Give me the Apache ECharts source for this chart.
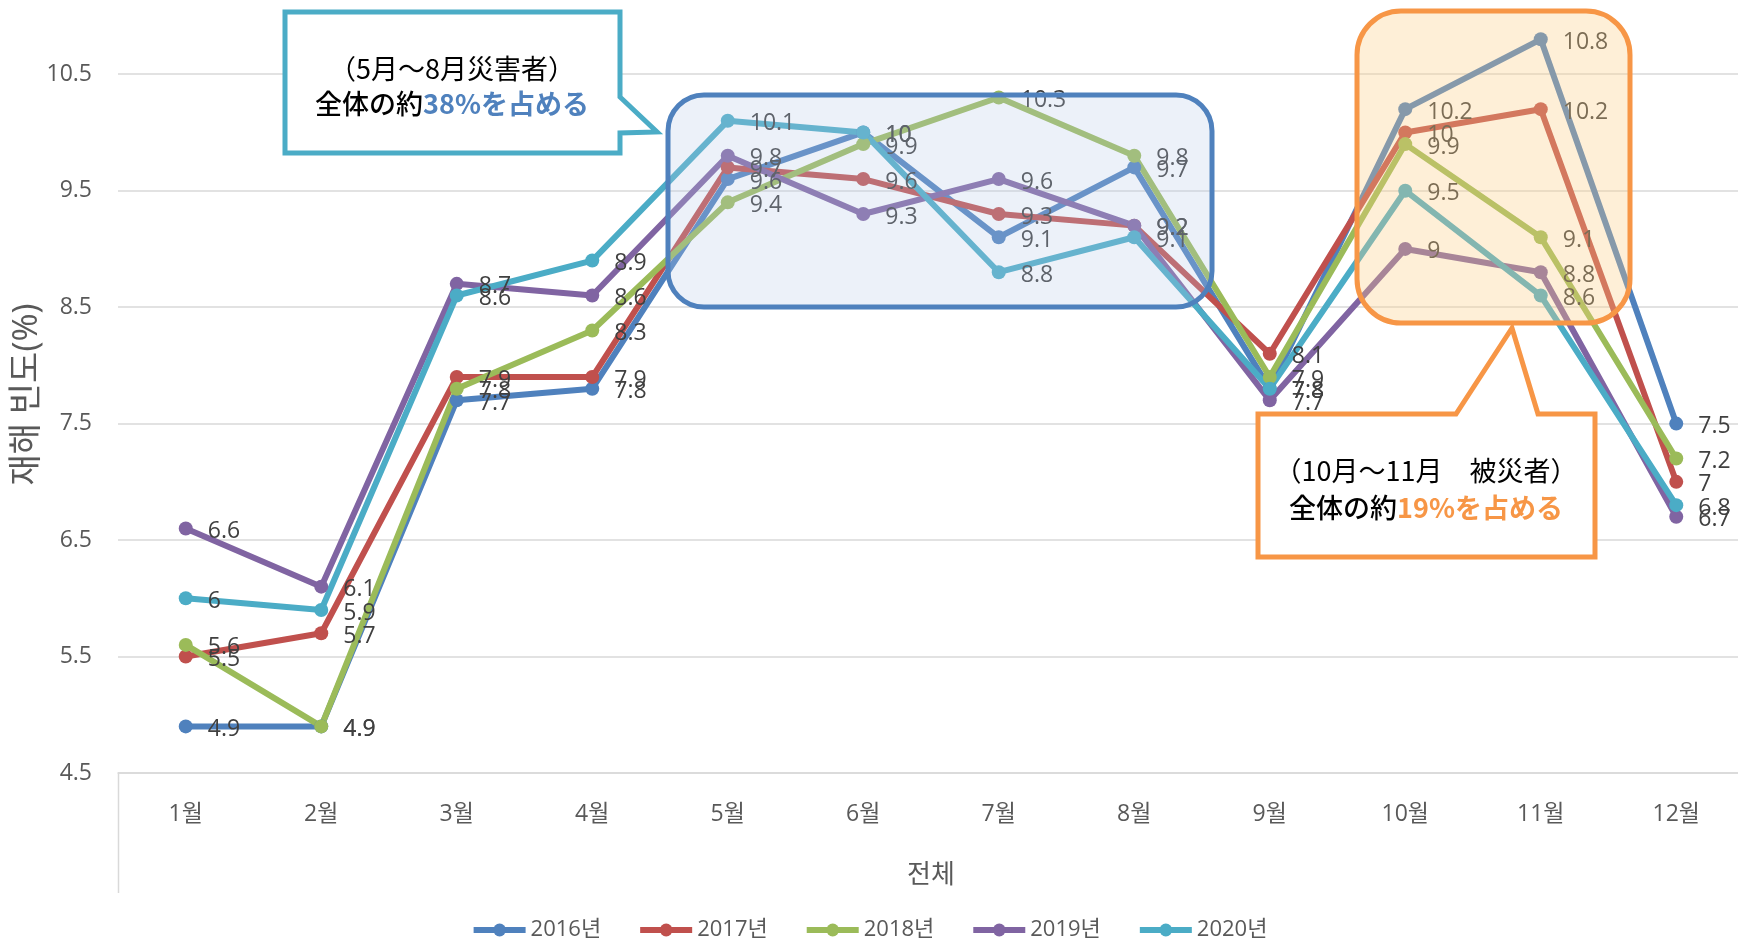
<!DOCTYPE html>
<html>
<head>
<meta charset="utf-8">
<script src="https://cdn.jsdelivr.net/npm/echarts@6/dist/echarts.min.js"></script>
<style>
  html, body { margin: 0; padding: 0; background: #fff; }
  #chart { width: 1738px; height: 946px; }
</style>
</head>
<body>
<div id="chart"></div>
<script>
const months = ["1월", "2월", "3월", "4월", "5월", "6월", "7월", "8월", "9월", "10월", "11월", "12월"];
const y2016 = [4.9, 4.9, 7.7, 7.8, 9.6, 10, 9.1, 9.7, 7.8, 10.2, 10.8, 7.5];
const y2017 = [5.5, 5.7, 7.9, 7.9, 9.7, 9.6, 9.3, 9.2, 8.1, 10, 10.2, 7];
const y2018 = [5.6, 4.9, 7.8, 8.3, 9.4, 9.9, 10.3, 9.8, 7.9, 9.9, 9.1, 7.2];
const y2019 = [6.6, 6.1, 8.7, 8.6, 9.8, 9.3, 9.6, 9.2, 7.7, 9, 8.8, 6.7];
const y2020 = [6, 5.9, 8.6, 8.9, 10.1, 10, 8.8, 9.1, 7.8, 9.5, 8.6, 6.8];

const seriesList = [
  { name: "2016년", data: y2016, color: "#4F81BD" },
  { name: "2017년", data: y2017, color: "#C0504D" },
  { name: "2018년", data: y2018, color: "#9BBB59" },
  { name: "2019년", data: y2019, color: "#8064A2" },
  { name: "2020년", data: y2020, color: "#4BACC6" },
];

const kr = '"Open Sans", "Noto Sans CJK KR", sans-serif';
const jp = '"Noto Sans CJK JP", "Noto Sans", sans-serif';

let myChart = echarts.init(document.getElementById("chart"));

myChart.setOption({
  animation: false,
  textStyle: { fontFamily: kr },
  color: seriesList.map((s) => s.color),
  grid: { left: 118, right: -6, top: 16, bottom: 173, outerBoundsMode: "none" },
  legend: {
    bottom: 0,
    left: "center",
    itemWidth: 52,
    itemHeight: 16,
    itemGap: 36,
    lineStyle: { width: 6 },
    textStyle: { fontSize: 22, color: "#595959", fontFamily: kr },
  },
  xAxis: {
    type: "category",
    data: months,
    boundaryGap: true,
    name: "전체",
    nameLocation: "middle",
    nameGap: 90,
    nameTextStyle: { fontSize: 26, color: "#595959" },
    axisLine: { lineStyle: { color: "#D9D9D9", width: 1.5 } },
    axisTick: { show: false },
    axisLabel: { margin: 30, fontSize: 23, color: "#595959" },
  },
  yAxis: {
    type: "value",
    min: 4.5,
    max: 11,
    interval: 1,
    name: "재해 빈도(%)",
    nameLocation: "middle",
    nameRotate: 90,
    nameGap: 74,
    nameMoveOverlap: false,
    nameTextStyle: { fontSize: 34, color: "#595959" },
    axisLine: { show: false },
    axisTick: { show: false },
    axisLabel: { margin: 26, fontSize: 23, color: "#595959", showMaxLabel: false },
    splitLine: { showMaxLine: false, lineStyle: { color: "#D9D9D9", width: 1.5 } },
  },
  series: seriesList.map((s) => ({
    name: s.name,
    type: "line",
    data: s.data,
    symbol: "circle",
    symbolSize: 14,
    lineStyle: { width: 6, color: s.color },
    itemStyle: { color: s.color },
    label: {
      show: true,
      position: "right",
      distance: 15,
      offset: [0, 3],
      fontSize: 23,
      color: "#404040",
    },
  })),
  graphic: [
    {
      type: "line",
      z: 1,
      shape: { x1: 118.5, y1: 773, x2: 118.5, y2: 893 },
      style: { stroke: "#D9D9D9", lineWidth: 1.5 },
    },
    // 5~8月 highlight
    {
      type: "rect",
      z: 100,
      shape: { x: 668, y: 95, width: 544, height: 212, r: 36 },
      style: { fill: "rgba(180,200,230,0.26)", stroke: "#4F81BD", lineWidth: 5 },
    },
    // 10~11月 highlight
    {
      type: "rect",
      z: 100,
      shape: { x: 1357, y: 11, width: 273, height: 312, r: 44 },
      style: { fill: "rgba(252,205,130,0.32)", stroke: "#F79646", lineWidth: 5 },
    },
    // callout 1
    {
      type: "polygon",
      z: 100,
      shape: {
        points: [[285, 12], [620, 12], [620, 97], [657, 132], [620, 133], [620, 153], [285, 153]],
      },
      style: { fill: "#fff", stroke: "#4BACC6", lineWidth: 5, lineJoin: "miter" },
    },
    {
      type: "text",
      z: 101,
      x: 452,
      y: 69,
      style: {
        text: "（5月～8月災害者）",
        fontSize: 27,
        fontFamily: jp,
        fill: "#000",
        align: "center",
        verticalAlign: "middle",
      },
    },
    {
      type: "text",
      z: 101,
      x: 452,
      y: 104,
      style: {
        text: "{a|全体の約}{b|38%を占める}",
        align: "center",
        verticalAlign: "middle",
        rich: {
          a: { fontSize: 27, fontFamily: jp, fill: "#000", fontWeight: 500 },
          b: { fontSize: 27, fontFamily: jp, fill: "#4F81BD", fontWeight: "bold" },
        },
      },
    },
    // callout 2
    {
      type: "polygon",
      z: 100,
      shape: {
        points: [[1258, 414], [1456, 414], [1512, 328], [1538, 414], [1595, 414], [1595, 557], [1258, 557]],
      },
      style: { fill: "#fff", stroke: "#F79646", lineWidth: 5, lineJoin: "miter" },
    },
    {
      type: "text",
      z: 101,
      x: 1426,
      y: 471,
      style: {
        text: "（10月～11月　被災者）",
        fontSize: 27,
        fontFamily: jp,
        fill: "#000",
        align: "center",
        verticalAlign: "middle",
      },
    },
    {
      type: "text",
      z: 101,
      x: 1426,
      y: 508,
      style: {
        text: "{a|全体の約}{b|19%を占める}",
        align: "center",
        verticalAlign: "middle",
        rich: {
          a: { fontSize: 27, fontFamily: jp, fill: "#000", fontWeight: 500 },
          b: { fontSize: 27, fontFamily: jp, fill: "#F79646", fontWeight: "bold" },
        },
      },
    },
  ],
});
</script>
</body>
</html>
